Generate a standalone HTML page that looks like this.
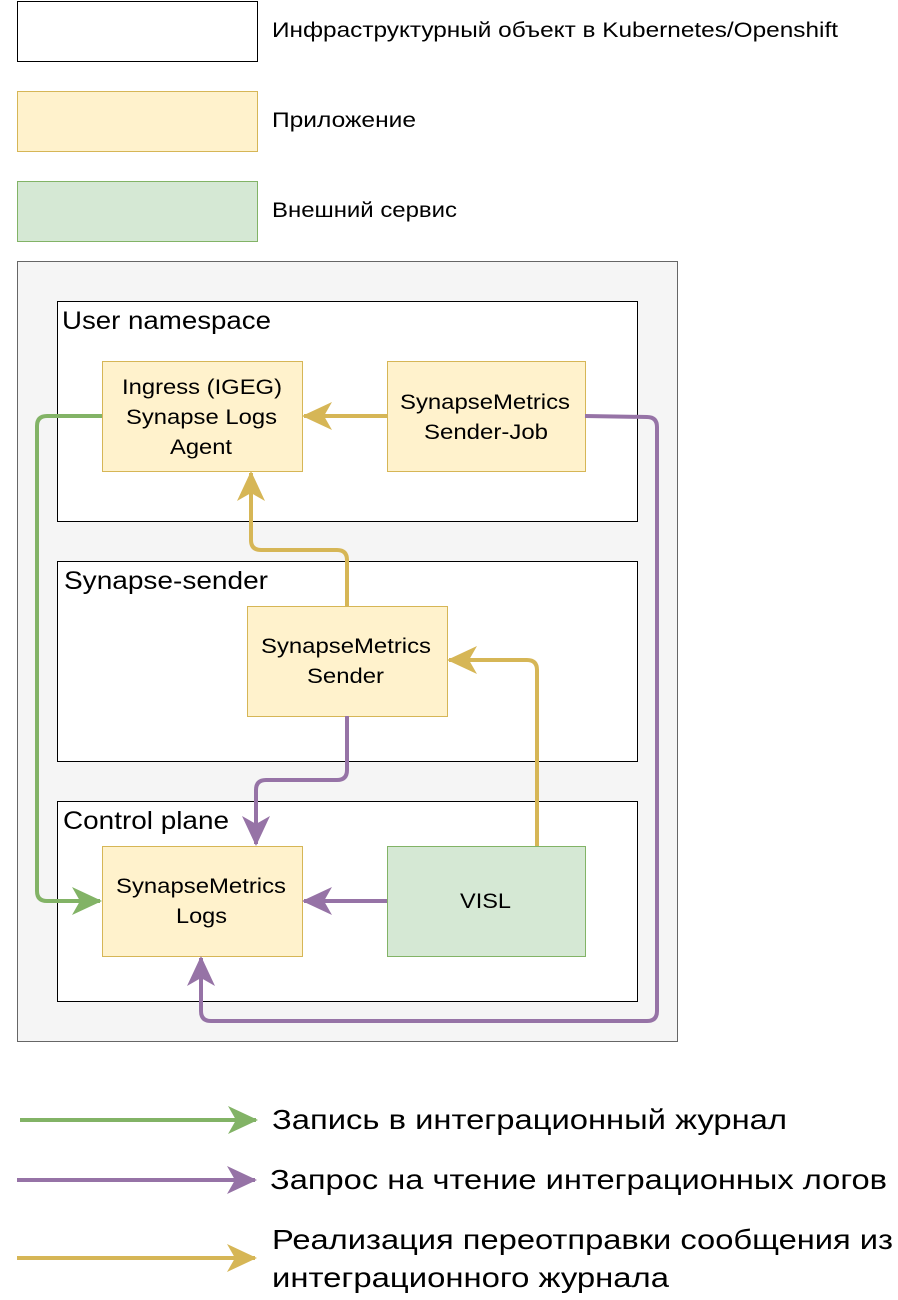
<!DOCTYPE html>
<html><head><meta charset="utf-8"><style>
html,body{margin:0;padding:0;background:#fff;}
svg{display:block;font-family:"Liberation Sans","DejaVu Sans",sans-serif;}
</style></head><body>
<svg width="898" height="1300" viewBox="0 0 898 1300" xmlns="http://www.w3.org/2000/svg">
<defs>
<marker id="g" markerWidth="8" markerHeight="8" refX="7" refY="4" orient="auto" markerUnits="strokeWidth"><path d="M0,0.5 L7.5,4 L0,7.5 L2,4 Z" fill="#82b366"/></marker>
<marker id="p" markerWidth="8" markerHeight="8" refX="7" refY="4" orient="auto" markerUnits="strokeWidth"><path d="M0,0.5 L7.5,4 L0,7.5 L2,4 Z" fill="#9673a6"/></marker>
<marker id="y" markerWidth="8" markerHeight="8" refX="7" refY="4" orient="auto" markerUnits="strokeWidth"><path d="M0,0.5 L7.5,4 L0,7.5 L2,4 Z" fill="#d6b656"/></marker>
</defs>
<rect x="17.5" y="1.5" width="240" height="60" fill="#fff" stroke="#000"/>
<rect x="17.5" y="91.5" width="240" height="60" fill="#fff2cc" stroke="#d6b656"/>
<rect x="17.5" y="181.5" width="240" height="60" fill="#d5e8d4" stroke="#82b366"/>
<g font-size="21" fill="#000" lengthAdjust="spacingAndGlyphs">
<text x="272" y="37" textLength="566" lengthAdjust="spacingAndGlyphs">Инфраструктурный объект в Kubernetes/Openshift</text>
<text x="272" y="127" textLength="144" lengthAdjust="spacingAndGlyphs">Приложение</text>
<text x="272" y="217" textLength="185" lengthAdjust="spacingAndGlyphs">Внешний сервис</text>
</g>
<rect x="17.5" y="261.5" width="660" height="780" fill="#f5f5f5" stroke="#666"/>
<rect x="57.5" y="301.5" width="580" height="220" fill="#fff" stroke="#000"/>
<rect x="57.5" y="561.5" width="580" height="200" fill="#fff" stroke="#000"/>
<rect x="57.5" y="801.5" width="580" height="200" fill="#fff" stroke="#000"/>
<g font-size="25">
<text x="62" y="329" textLength="209" lengthAdjust="spacingAndGlyphs">User namespace</text>
<text x="64" y="589" textLength="204" lengthAdjust="spacingAndGlyphs">Synapse-sender</text>
<text x="63" y="829" textLength="166" lengthAdjust="spacingAndGlyphs">Control plane</text>
</g>
<rect x="102.5" y="361.5" width="200" height="110" fill="#fff2cc" stroke="#d6b656"/>
<rect x="387.5" y="361.5" width="198" height="110" fill="#fff2cc" stroke="#d6b656"/>
<rect x="247.5" y="606.5" width="200" height="110" fill="#fff2cc" stroke="#d6b656"/>
<rect x="102.5" y="846.5" width="200" height="110" fill="#fff2cc" stroke="#d6b656"/>
<rect x="387.5" y="846.5" width="198" height="110" fill="#d5e8d4" stroke="#82b366"/>
<g font-size="21">
<text x="122" y="394" textLength="160" lengthAdjust="spacingAndGlyphs">Ingress (IGEG)</text>
<text x="126" y="424" textLength="151" lengthAdjust="spacingAndGlyphs">Synapse Logs</text>
<text x="170" y="454" textLength="62" lengthAdjust="spacingAndGlyphs">Agent</text>
<text x="400" y="409" textLength="170" lengthAdjust="spacingAndGlyphs">SynapseMetrics</text>
<text x="424" y="439" textLength="124" lengthAdjust="spacingAndGlyphs">Sender-Job</text>
<text x="261" y="653" textLength="170" lengthAdjust="spacingAndGlyphs">SynapseMetrics</text>
<text x="307" y="683" textLength="77" lengthAdjust="spacingAndGlyphs">Sender</text>
<text x="116" y="893" textLength="170" lengthAdjust="spacingAndGlyphs">SynapseMetrics</text>
<text x="176" y="923" textLength="51" lengthAdjust="spacingAndGlyphs">Logs</text>
<text x="460" y="908" textLength="51" lengthAdjust="spacingAndGlyphs">VISL</text>
</g>
<g fill="none" stroke-width="4">
<path d="M102,416 L47,416 Q37,416 37,426 L37,891 Q37,901 47,901 L100,901" stroke="#82b366" marker-end="url(#g)"/>
<path d="M387,416 L304,416" stroke="#d6b656" marker-end="url(#y)"/>
<path d="M585,416 L647,417 Q657,417 657,427 L657,1011 Q657,1021 647,1021 L211,1021 Q201,1021 201,1011 L201,958" stroke="#9673a6" marker-end="url(#p)"/>
<path d="M347,606 L347,560 Q347,550 337,550 L261,550 Q251,550 251,540 L251,473" stroke="#d6b656" marker-end="url(#y)"/>
<path d="M347,716 L347,770 Q347,780 337,780 L266,780 Q256,780 256,790 L256,844" stroke="#9673a6" marker-end="url(#p)"/>
<path d="M537,846 L537,670 Q537,660 527,660 L449,660" stroke="#d6b656" marker-end="url(#y)"/>
<path d="M387,901 L304,901" stroke="#9673a6" marker-end="url(#p)"/>
<path d="M20,1120 L256,1120" stroke="#82b366" marker-end="url(#g)"/>
<path d="M17,1180 L255,1180" stroke="#9673a6" marker-end="url(#p)"/>
<path d="M17,1258 L255,1258" stroke="#d6b656" marker-end="url(#y)"/>
</g>
<g font-size="28">
<text x="272" y="1129" textLength="515" lengthAdjust="spacingAndGlyphs">Запись в интеграционный журнал</text>
<text x="270" y="1189" textLength="617" lengthAdjust="spacingAndGlyphs">Запрос на чтение интеграционных логов</text>
<text x="272" y="1249" textLength="621" lengthAdjust="spacingAndGlyphs">Реализация переотправки сообщения из</text>
<text x="272" y="1287" textLength="397" lengthAdjust="spacingAndGlyphs">интеграционного журнала</text>
</g>
</svg>
</body></html>
